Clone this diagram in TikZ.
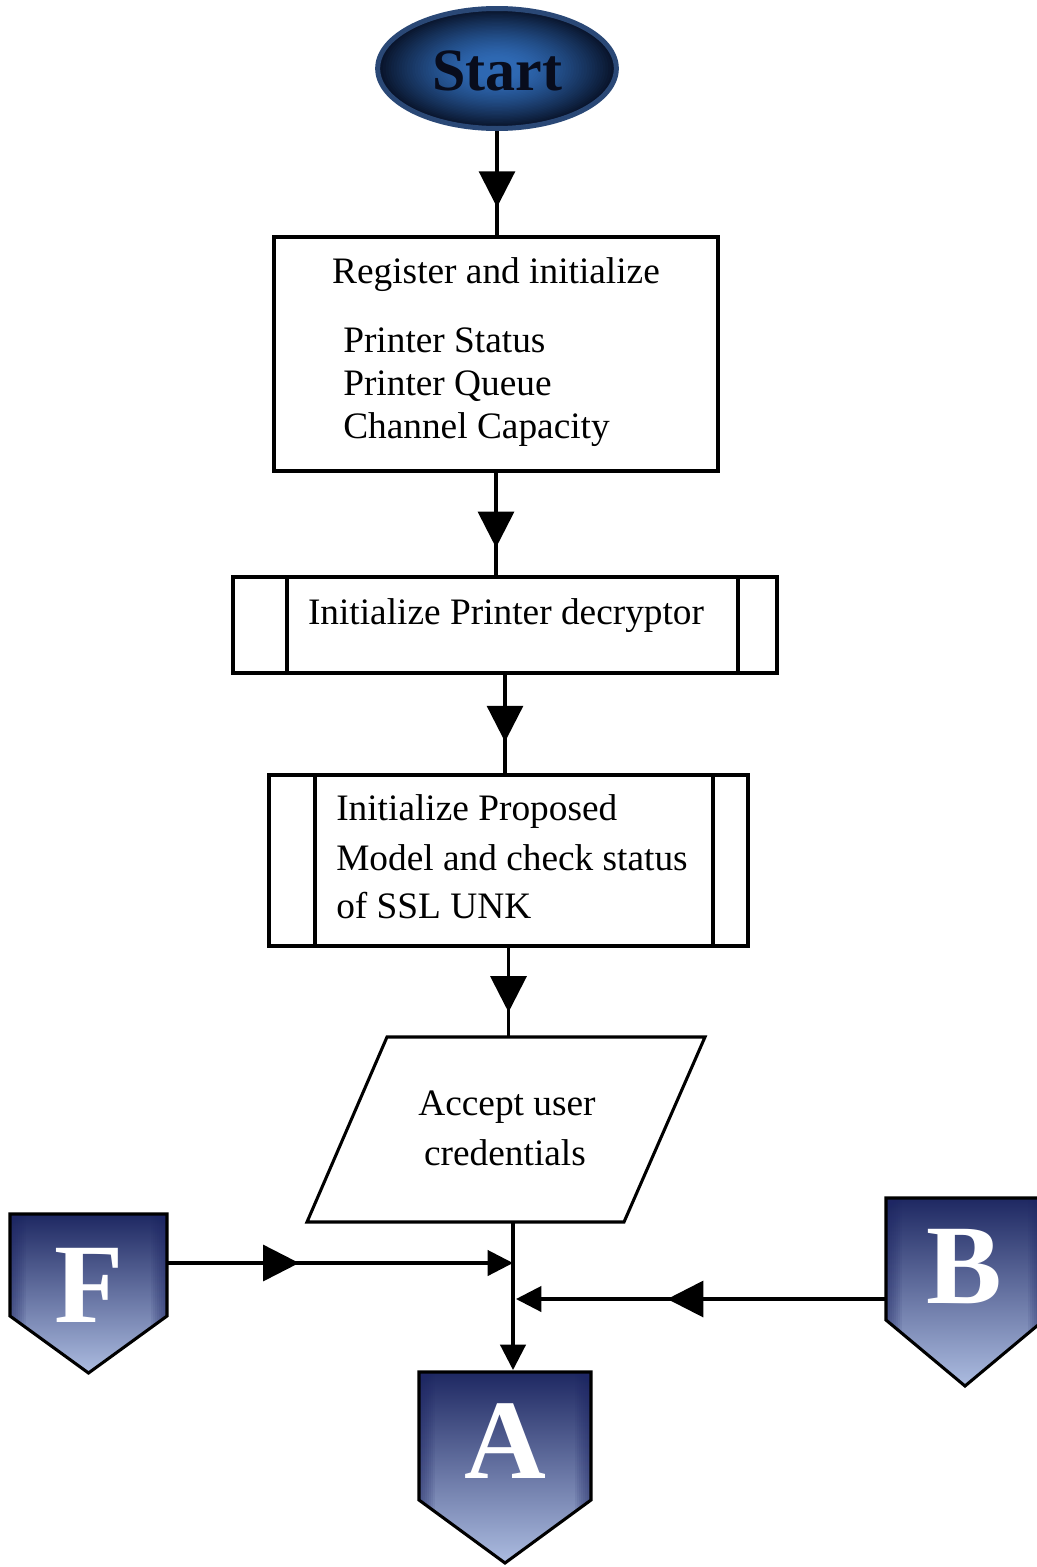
\documentclass[tikz,border=0pt]{standalone}
\usepackage{fontspec}
\setmainfont{Liberation Serif}
\usetikzlibrary{arrows.meta,decorations.markings,fit,shapes.geometric}

\definecolor{ovalin}{RGB}{46,104,178}
\definecolor{ovalout}{RGB}{8,18,40}
\definecolor{ovalrim}{RGB}{42,72,118}
\definecolor{startink}{RGB}{8,12,28}
\definecolor{tagtop}{RGB}{30,40,98}
\definecolor{tagbot}{RGB}{172,188,224}
\definecolor{tagside}{RGB}{30,38,100}

% off-page connector: left x, right x, top y, shoulder y, tip y
\newcommand\offpagetag[5]{%
  \begin{scope}
    \clip (#1,#3) -- (#2,#3) -- (#2,#4) -- ({(#1+#2)/2},#5) -- (#1,#4) -- cycle;
    \shade[top color=tagtop, bottom color=tagbot] (#1,#3) rectangle (#2,#5);
    \foreach \w in {2,4,...,16} {
      \fill[tagside, fill opacity=0.085] (#1,#3) rectangle ({#1+\w},#5);
      \fill[tagside, fill opacity=0.085] ({#2-\w},#3) rectangle (#2,#5);
    }
  \end{scope}
  \draw[tagedge] (#1,#3) -- (#2,#3) -- (#2,#4) -- ({(#1+#2)/2},#5) -- (#1,#4) -- cycle;
}

\begin{document}
\begin{tikzpicture}[x=0.75pt,y=-0.75pt,
  box/.style={draw=black, line width=2.3pt, inner sep=0pt},
  body/.style={inner sep=0pt, font=\fontsize{28}{33}\selectfont},
  flow/.style={draw=black, line width=2.3pt},
  midtri/.style={postaction={decorate},
    decoration={markings, mark=at position #1 with {\arrow{Triangle[length=27pt,width=27pt]}}}},
  endtri/.style={-{Triangle[length=19pt,width=19pt]}},
  startoval/.style={ellipse, draw=ovalrim, line width=3.75pt,
    minimum width=179pt, minimum height=90pt, inner sep=0pt},
  tagedge/.style={draw=black, line width=2.3pt, line join=miter},
  taglabel/.style={text=white, inner sep=0pt,
    font=\fontsize{85}{85}\selectfont\bfseries}
]
\useasboundingbox (0,0) rectangle (1036,1567);

% ---- start terminal: radial blue fill built from nested ellipses
\foreach \i in {0,...,44} {
  \pgfmathsetmacro\rr{1-\i/45}
  \pgfmathsetmacro\pp{100*min(1,max(0,(\rr-0.18)/0.82))^1.4}
  \fill[ovalout!\pp!ovalin] (497,68.5) ellipse [x radius={\rr*89.5pt}, y radius={\rr*45pt}];
}
\node[startoval] (start) at (497,68.5) {};
\node[anchor=base, inner sep=0pt, text=startink,
  font=\fontsize{45}{45}\selectfont\bfseries] (starttxt) at (497,90) {Start};

% ---- register block
\node[box, fit={(274,237) (718,471)}] (reg) {};
\node[body, anchor=base] (regt) at (496,283) {Register and initialize};
\node[body, anchor=base west] (reg1) at (343,352) {Printer Status};
\node[body, anchor=base west] (reg2) at (343,395) {Printer Queue};
\node[body, anchor=base west] (reg3) at (343,438) {Channel Capacity};

% ---- predefined process: decryptor
\node[box, fit={(233,577) (777,673)}] (dec) {};
\draw[line width=2.3pt] (287,577) -- (287,673) (738,577) -- (738,673);
\node[body, anchor=base] (dect) at (506,624) {Initialize Printer decryptor};

% ---- predefined process: proposed model
\node[box, fit={(269,775) (748,946)}] (prop) {};
\draw[line width=2.3pt] (315,775) -- (315,946) (713,775) -- (713,946);
\node[body, anchor=base west] (prop1) at (336,820) {Initialize Proposed};
\node[body, anchor=base west] (prop2) at (336,870) {Model and check status};
\node[body, anchor=base west] (prop3) at (336,918) {of SSL UNK};

% ---- input: credentials
\draw[line width=2.3pt, line join=miter]
  (387,1037) -- (705,1037) -- (624,1222) -- (307,1222) -- cycle;
\node[inner sep=0pt, fit={(307,1037) (705,1222)}] (acc) {};
\node[body, anchor=base] (acc1) at (507,1115) {Accept user};
\node[body, anchor=base] (acc2) at (505,1165) {credentials};

% ---- off-page connectors
\offpagetag{10}{167}{1214}{1316}{1373}
\node[taglabel, anchor=base] (F) at (89,1322) {F};
\offpagetag{886}{1044}{1198}{1320}{1386}
\node[taglabel, anchor=base] (B) at (964,1303) {B};
\offpagetag{419}{591}{1372}{1500}{1563}
\node[taglabel, anchor=base] (A) at (505,1478) {A};

% connector end points
\coordinate (Fout) at (168,1263);
\coordinate (Fin) at (513,1263);
\coordinate (Bout) at (885,1299);
\coordinate (Bin) at (516,1299);
\coordinate (Ain) at (513,1370);

% ---- flow lines
\draw[flow, midtri=0.73] (start.south) -- (start.south |- reg.north);
\draw[flow, midtri=0.73] (reg.south) -- (reg.south |- dec.north);
\draw[flow, midtri=0.68] (dec.south) -- (dec.south |- prop.north);
\draw[flow, midtri=0.725] (prop.south) -- (prop.south |- acc.north);
\draw[flow, endtri] (acc.south -| Ain) -- (Ain);
\draw[flow, endtri, midtri=0.38] (Fout) -- (Fin);
\draw[flow, endtri, midtri=0.59] (Bout) -- (Bin);
\end{tikzpicture}
\end{document}
